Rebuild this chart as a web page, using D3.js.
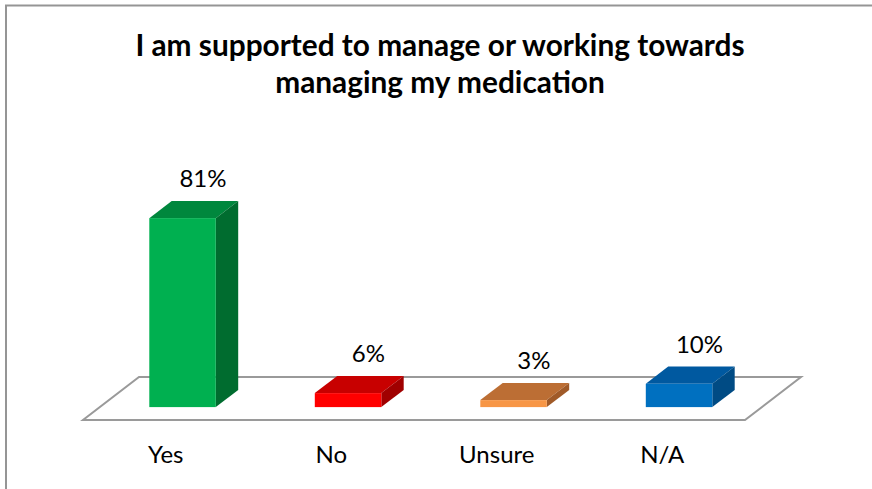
<!DOCTYPE html>
<html>
<head>
<meta charset="utf-8">
<script src="https://cdn.jsdelivr.net/npm/d3@7"></script>
<style>
  html, body { margin: 0; padding: 0; background: #fff; }
  svg { display: block; }
  text { font-family: Lato, "Open Sans", sans-serif; fill: #000; }
</style>
</head>
<body>
<svg id="chart" width="872" height="489"></svg>
<script>
const categories = ["Yes", "No", "Unsure", "N/A"];
const values = [81, 6, 3, 10];
const valueLabels = ["81%", "6%", "3%", "10%"];
const frontColors = ["#00B050", "#FF0000", "#F79646", "#0070C0"];
const topColors = ["#00873D", "#C80000", "#BC6E34", "#0059A0"];
const sideColors = ["#006C2F", "#A00000", "#A05A28", "#004B84"];
const titleLines = ["I am supported to manage or working towards", "managing my medication"];

const svg = d3.select("#chart");
const W = 872, H = 489;

// chart border (top + left visible)
svg.append("rect").attr("x", 6).attr("y", 5.5).attr("width", W + 20).attr("height", H + 20)
  .attr("fill", "#fff").attr("stroke", "#959595").attr("stroke-width", 2);

// floor geometry
const floorFrontY = 420, depthDX = 56, depthDY = -43;
const x = d3.scaleBand().domain(categories).range([83, 745]).paddingInner(0).paddingOuter(0);
const barW = 66.5;
const y = d3.scaleLinear().domain([0, 100]).range([0, 233.3]);
const dFront = 0.30, dBack = 0.70;

// floor
const fl = [[83, floorFrontY], [745, floorFrontY], [745 + depthDX, floorFrontY + depthDY], [83 + depthDX, floorFrontY + depthDY]];
svg.append("path").attr("d", d3.line()(fl) + "Z")
  .attr("fill", "#fff").attr("stroke", "#9a9a9a").attr("stroke-width", 2);

const g = svg.append("g");
categories.forEach((c, i) => {
  const x0 = x(c) + (x.bandwidth() - barW) / 2 + dFront * depthDX;
  const x1 = x0 + barW;
  const yb = floorFrontY + dFront * depthDY;
  const yt = yb - y(values[i]);
  const ox = (dBack - dFront) * depthDX, oy = (dBack - dFront) * depthDY;
  // top face
  g.append("path").attr("d", d3.line()([[x0, yt], [x1, yt], [x1 + ox, yt + oy], [x0 + ox, yt + oy]]) + "Z")
    .attr("fill", topColors[i]);
  // side face
  g.append("path").attr("d", d3.line()([[x1, yt], [x1 + ox, yt + oy], [x1 + ox, yb + oy], [x1, yb]]) + "Z")
    .attr("fill", sideColors[i]);
  // front face
  g.append("rect").attr("x", x0).attr("y", yt).attr("width", barW).attr("height", yb - yt)
    .attr("fill", frontColors[i]);
  // value label
  g.append("text").attr("x", (x0 + x1) / 2 + ox - 2).attr("y", yt + oy - 14)
    .attr("text-anchor", "middle").attr("font-size", 24).text(valueLabels[i]);
  // category label
  svg.append("text").attr("x", x(c) + x.bandwidth() / 2).attr("y", 463)
    .attr("text-anchor", "middle").attr("font-size", 24).text(c);
});

// title
titleLines.forEach((t, i) => {
  svg.append("text").attr("x", 440).attr("y", 56 + i * 37.3)
    .attr("text-anchor", "middle").attr("font-size", 29.8).attr("font-weight", "bold").text(t);
});
</script>
</body>
</html>
